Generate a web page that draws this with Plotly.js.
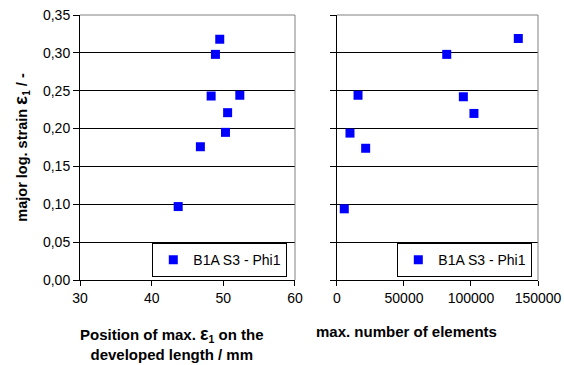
<!DOCTYPE html>
<html>
<head>
<meta charset="utf-8">
<script src="https://cdn.plot.ly/plotly-3.0.1.min.js"></script>
<style>html,body{margin:0;padding:0;background:#fff;}#chart{width:564px;height:365px;}</style>
</head>
<body>
<div id="chart"></div>
<script>
// Data
const seriesName = "B1A S3 - Phi1";
const positionMm = [43.7, 46.8, 48.3, 48.9, 49.5, 50.3, 50.6, 52.3];
const strainLeft = [0.097, 0.176, 0.243, 0.298, 0.318, 0.195, 0.221, 0.244];
const numElements = [5450, 9700, 15700, 21400, 81900, 94300, 102200, 135300];
const strainRight = [0.094, 0.194, 0.244, 0.174, 0.298, 0.242, 0.220, 0.319];

const FONT = "Arial, 'Liberation Sans', sans-serif";
const markerStyle = {symbol: "square", size: 9, color: "#0000FF"};

const traces = [
  {x: positionMm, y: strainLeft, type: "scatter", mode: "markers", name: seriesName,
   marker: markerStyle, xaxis: "x", yaxis: "y", legend: "legend", showlegend: true},
  {x: numElements, y: strainRight, type: "scatter", mode: "markers", name: seriesName,
   marker: markerStyle, xaxis: "x2", yaxis: "y2", legend: "legend2", showlegend: true}
];

const yCommon = {
  range: [0, 0.35], dtick: 0.05, tick0: 0, tickformat: ".2f",
  showgrid: true, gridcolor: "#000", gridwidth: 1, zeroline: false,
  showline: true, linecolor: "#000", linewidth: 1,
  ticks: "outside", ticklen: 6, tickcolor: "#000",
  tickfont: {family: FONT, size: 14, color: "#000"}, fixedrange: true
};
const xCommon = {
  showgrid: false, zeroline: false, showline: true, linecolor: "#000", linewidth: 1,
  ticks: "outside", ticklen: 5, tickcolor: "#000",
  tickfont: {family: FONT, size: 14, color: "#000"}, fixedrange: true
};

const legendCommon = {
  bgcolor: "#fff", bordercolor: "#000", borderwidth: 1,
  font: {family: FONT, size: 14, color: "#000"},
  xanchor: "right", yanchor: "bottom", itemwidth: 30, visible: true
};

const layout = {
  width: 564, height: 365,
  margin: {l: 80, r: 26, t: 15, b: 85, pad: 0},
  paper_bgcolor: "#fff", plot_bgcolor: "#fff",
  separators: ",.",
  showlegend: true,
  font: {family: FONT, size: 13, color: "#000"},
  xaxis: Object.assign({}, xCommon, {domain: [0, 0.4694], range: [30, 60], dtick: 10, tick0: 30, anchor: "y"}),
  yaxis: Object.assign({}, yCommon, {anchor: "x",
    title: {text: "<b>major log. strain <span style='font-size:19px'>ε</span><sub>1</sub> / -</b>",
            font: {family: FONT, size: 14.5, color: "#000"}, standoff: 11}}),
  xaxis2: Object.assign({}, xCommon, {domain: [0.5611, 1], range: [0, 150000], dtick: 50000, tick0: 0, tickformat: "d", anchor: "y2"}),
  yaxis2: Object.assign({}, yCommon, {anchor: "x2", showticklabels: false}),
  legend: Object.assign({}, legendCommon, {x: 0.4526, y: 0.011}),
  legend2: Object.assign({}, legendCommon, {x: 0.9876, y: 0.011}),
  shapes: [
    {type: "line", xref: "x domain", yref: "y domain", x0: 0, x1: 1, y0: 1, y1: 1, line: {color: "#808080", width: 1}, layer: "above"},
    {type: "line", xref: "x domain", yref: "y domain", x0: 1, x1: 1, y0: 0, y1: 1, line: {color: "#808080", width: 1}, layer: "above"},
    {type: "line", xref: "x2 domain", yref: "y2 domain", x0: 0, x1: 1, y0: 1, y1: 1, line: {color: "#808080", width: 1}, layer: "above"},
    {type: "line", xref: "x2 domain", yref: "y2 domain", x0: 1, x1: 1, y0: 0, y1: 1, line: {color: "#808080", width: 1}, layer: "above"}
  ],
  annotations: [
    {xref: "paper", yref: "paper", x: 0.2009, y: -0.24, xanchor: "center", yanchor: "middle", showarrow: false,
     text: "<b>Position of max. <span style='font-size:18px'>ε</span><sub>1</sub> on the<br>developed length / mm</b>",
     font: {family: FONT, size: 15, color: "#000"}},
    {xref: "paper", yref: "paper", x: 0.7118, y: -0.196, xanchor: "center", yanchor: "middle", showarrow: false,
     text: "<b>max. number of elements</b>",
     font: {family: FONT, size: 15, color: "#000"}}
  ]
};

Plotly.newPlot("chart", traces, layout, {displayModeBar: false, staticPlot: true});
</script>
</body>
</html>
